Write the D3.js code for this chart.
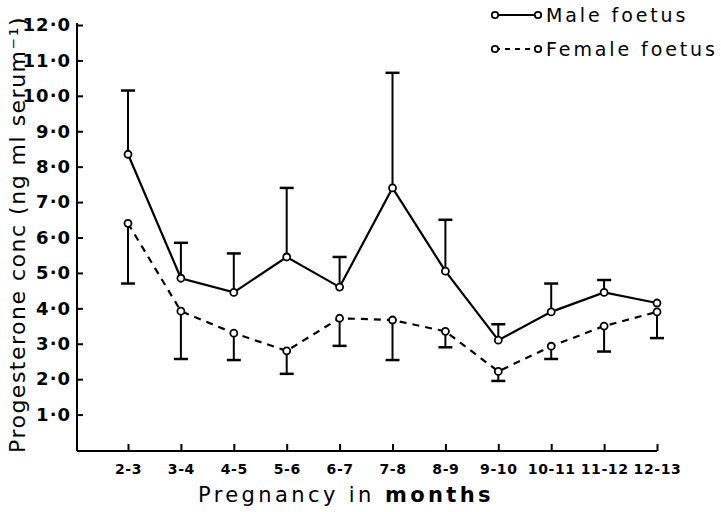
<!DOCTYPE html>
<html>
<head>
<meta charset="utf-8">
<script src="https://cdn.jsdelivr.net/npm/d3@7"></script>
<style>
  body { margin: 0; background: #fff; }
  svg { display: block; }
  text { font-family: "DejaVu Sans", sans-serif; fill: #000; }
</style>
</head>
<body>
<svg width="721" height="512"></svg>
<script>
// values
var months = ["2-3", "3-4", "4-5", "5-6", "6-7", "7-8", "8-9", "9-10", "10-11", "11-12", "12-13"];
var male = [8.35, 4.85, 4.45, 5.45, 4.6, 7.4, 5.05, 3.1, 3.9, 4.45, 4.15];
var maleErr = [10.15, 5.85, 5.55, 7.4, 5.45, 10.65, 6.5, 3.55, 4.7, 4.8, null]; // upper end of bar
var female = [6.4, 3.92, 3.3, 2.8, 3.72, 3.67, 3.35, 2.22, 2.93, 3.5, 3.9];
var femaleErr = [4.7, 2.57, 2.54, 2.15, 2.94, 2.54, 2.9, 1.95, 2.57, 2.78, 3.16]; // lower end of bar
var yTicks = [1, 2, 3, 4, 5, 6, 7, 8, 9, 10, 11, 12];

var svg = d3.select("svg");

var x = d3.scalePoint()
    .domain(months)
    .range([128, 657]);

var y = d3.scaleLinear()
    .domain([0, 12])
    .range([450, 25]);

// axes
var xAxis = d3.axisBottom(x).tickSizeInner(-7).tickSizeOuter(0).tickPadding(13);
var gx = svg.append("g")
    .attr("transform", "translate(0,451)")
    .call(xAxis);
gx.select(".domain").attr("d", "M77,0H657").attr("stroke-width", 2);
gx.selectAll(".tick line").attr("stroke-width", 2);
gx.selectAll(".tick text")
    .attr("font-size", 14)
    .attr("font-weight", "bold")
    .attr("letter-spacing", 0.6);

var yAxis = d3.axisLeft(y).tickValues(yTicks).tickSizeInner(-6).tickSizeOuter(0).tickPadding(6)
    .tickFormat(function(d) { return d + "·0"; });
var gy = svg.append("g")
    .attr("transform", "translate(77,0)")
    .call(yAxis);
gy.select(".domain").attr("d", "M0,23V451").attr("stroke-width", 2);
gy.selectAll(".tick line").attr("stroke-width", 2);
gy.selectAll(".tick text")
    .attr("font-size", 18)
    .attr("font-weight", "bold")
    .attr("letter-spacing", 1);

// error bars
function bars(vals, ends, cls) {
    var g = svg.append("g").attr("class", cls);
    var data = vals.map(function(v, i) { return {k: months[i], v: v, e: ends[i]}; })
        .filter(function(d) { return d.e != null; });
    g.selectAll("line.stem").data(data).enter().append("line")
        .attr("x1", function(d) { return x(d.k); })
        .attr("x2", function(d) { return x(d.k); })
        .attr("y1", function(d) { return y(d.v); })
        .attr("y2", function(d) { return y(d.e); })
        .attr("stroke", "#000").attr("stroke-width", 2);
    g.selectAll("line.cap").data(data).enter().append("line")
        .attr("x1", function(d) { return x(d.k) - 7; })
        .attr("x2", function(d) { return x(d.k) + 7; })
        .attr("y1", function(d) { return y(d.e); })
        .attr("y2", function(d) { return y(d.e); })
        .attr("stroke", "#000").attr("stroke-width", 2.5);
}
bars(male, maleErr, "male-err");
bars(female, femaleErr, "female-err");

var line = d3.line()
    .x(function(d, i) { return x(months[i]); })
    .y(function(d) { return y(d); });

svg.append("path")
    .datum(male)
    .attr("d", line)
    .attr("fill", "none")
    .attr("stroke", "#000")
    .attr("stroke-width", 2.2);

svg.append("path")
    .datum(female)
    .attr("d", line)
    .attr("fill", "none")
    .attr("stroke", "#000")
    .attr("stroke-width", 2.2)
    .attr("stroke-dasharray", "7,6");

[male, female].forEach(function(s) {
    svg.append("g").selectAll("circle").data(s).enter().append("circle")
        .attr("cx", function(d, i) { return x(months[i]); })
        .attr("cy", function(d) { return y(d); })
        .attr("r", 3.5)
        .attr("fill", "#fff")
        .attr("stroke", "#000")
        .attr("stroke-width", 1.8);
});

// legend
var legend = [
    {name: "Male foetus", dash: null, y: 15},
    {name: "Female foetus", dash: "5,5", y: 49}
];
var lg = svg.append("g").selectAll("g").data(legend).enter().append("g")
    .attr("transform", function(d) { return "translate(0," + d.y + ")"; });
lg.append("line")
    .attr("x1", 495).attr("x2", 538)
    .attr("stroke", "#000").attr("stroke-width", 2)
    .attr("stroke-dasharray", function(d) { return d.dash; });
lg.append("circle").attr("cx", 495).attr("r", 3.2)
    .attr("fill", "#fff").attr("stroke", "#000").attr("stroke-width", 1.8);
lg.append("circle").attr("cx", 538).attr("r", 3.2)
    .attr("fill", "#fff").attr("stroke", "#000").attr("stroke-width", 1.8);
lg.append("text")
    .attr("x", 546).attr("y", 7)
    .attr("font-size", 19)
    .attr("letter-spacing", 2.9)
    .text(function(d) { return d.name; });

// axis titles
var xt = svg.append("text")
    .attr("x", 198).attr("y", 502)
    .attr("font-size", 21)
    .attr("letter-spacing", 3.4);
xt.append("tspan").text("Pregnancy in ");
xt.append("tspan").attr("font-weight", "bold").text("months");

svg.append("text")
    .attr("transform", "translate(25,453) rotate(-90)")
    .attr("font-size", 22)
    .attr("letter-spacing", 1.5)
    .text("Progesterone conc (ng ml serum⁻¹)");
</script>
</body>
</html>
